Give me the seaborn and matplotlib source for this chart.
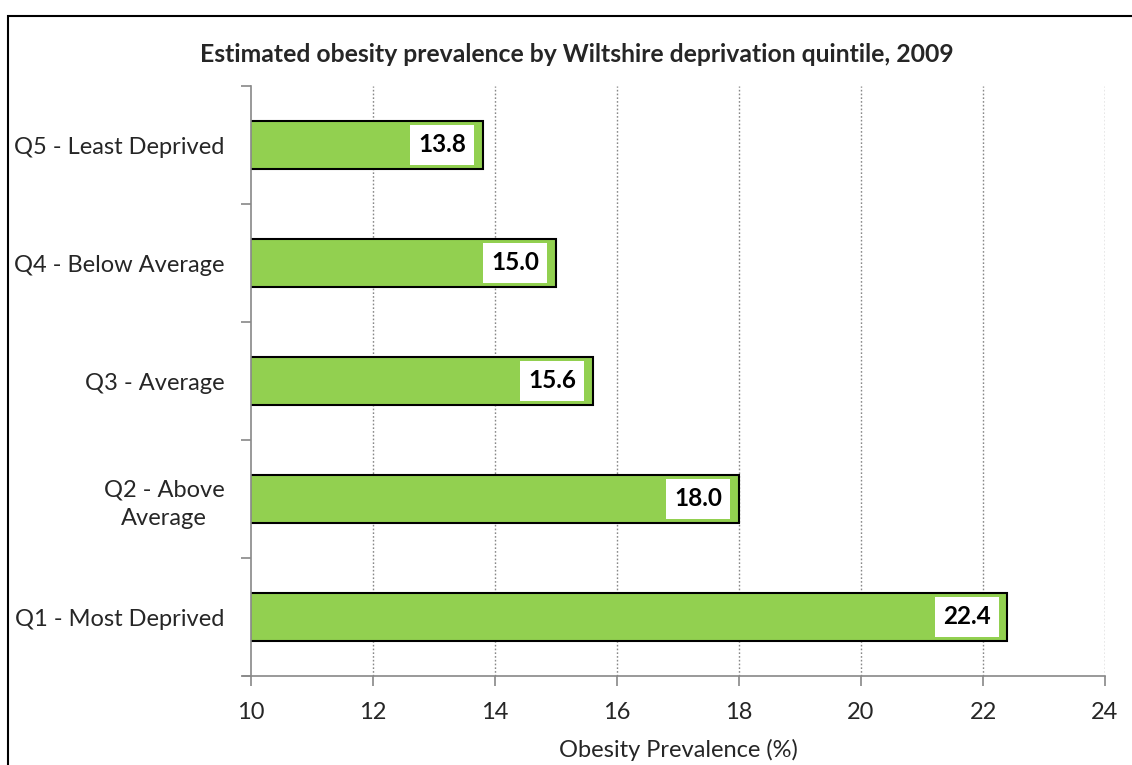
import matplotlib
matplotlib.use("Agg")
import matplotlib.pyplot as plt
import seaborn as sns
import pandas as pd
from matplotlib.patches import Rectangle
from matplotlib.ticker import FixedLocator

categories = ["Q5 - Least Deprived", "Q4 - Below Average", "Q3 - Average",
              "Q2 - Above\nAverage", "Q1 - Most Deprived"]
values = [13.8, 15.0, 15.6, 18.0, 22.4]
x_ticks = [10, 12, 14, 16, 18, 20, 22, 24]
title = "Estimated obesity prevalence by Wiltshire deprivation quintile, 2009"
xlabel = "Obesity Prevalence (%)"

sns.set_style("white")
plt.rcParams['font.family'] = ['Lato', 'DejaVu Sans']

W, H = 1132, 765
fig = plt.figure(figsize=(W / 100, H / 100), dpi=100)
ax = fig.add_axes([251 / W, 1 - 676 / H, (1105 - 251) / W, (676 - 86) / H])

df = pd.DataFrame({"cat": categories, "val": values})
sns.barplot(data=df, x="val", y="cat", orient="h", color="#92D050",
            width=0.4, edgecolor="black", linewidth=1.5, saturation=1, ax=ax)

ax.set_xlim(10, 24)
ax.set_ylim(len(categories) - 0.5, -0.5)
ax.set_xticks(x_ticks)
ax.set_xticklabels([str(t) for t in x_ticks], fontsize=17)
ax.tick_params(axis="x", bottom=True, length=7, color="#888888", width=1.2,
               pad=12, direction="out")
ax.tick_params(axis="y", which="major", left=False, length=0, pad=19, labelsize=17)
for lab in ax.get_yticklabels():
    lab.set_multialignment("center")
    lab.set_linespacing(1.4)
ax.yaxis.set_minor_locator(FixedLocator([i - 0.5 for i in range(len(categories) + 1)]))
ax.tick_params(axis="y", which="minor", left=True, length=7, color="#888888",
               width=1.2, direction="out")

ax.grid(False)
for t in x_ticks[1:]:
    ax.axvline(t, color="#888888", linestyle=(0, (1.2, 1.5)), linewidth=1.0, zorder=0)

for s in ["top", "right"]:
    ax.spines[s].set_visible(False)
for s in ["left", "bottom"]:
    ax.spines[s].set_color("#888888")
    ax.spines[s].set_linewidth(1.2)
ax.spines["bottom"].set_bounds(10 - 8 / 61, 24)

ax.set_xlabel(xlabel, fontsize=17, labelpad=11)
ax.set_ylabel("")

for i, v in enumerate(values):
    ax.annotate(f"{v:.1f}", xy=(v, i), xytext=(-12, 0), textcoords="offset points",
                ha="right", va="center", fontsize=17.5, fontweight="bold", color="black",
                bbox=dict(boxstyle="square,pad=0.33", fc="white", ec="none"))

fig.text(577 / W, 1 - 55 / H, title, ha="center", va="center",
         fontsize=17.8, fontweight="bold")

fig.patches.append(Rectangle((8 / W, -0.05), 1.2, 1 - 16 / H + 0.05,
                             transform=fig.transFigure, fill=False,
                             edgecolor="black", linewidth=1.5))

fig.savefig("out.png", dpi=100)
